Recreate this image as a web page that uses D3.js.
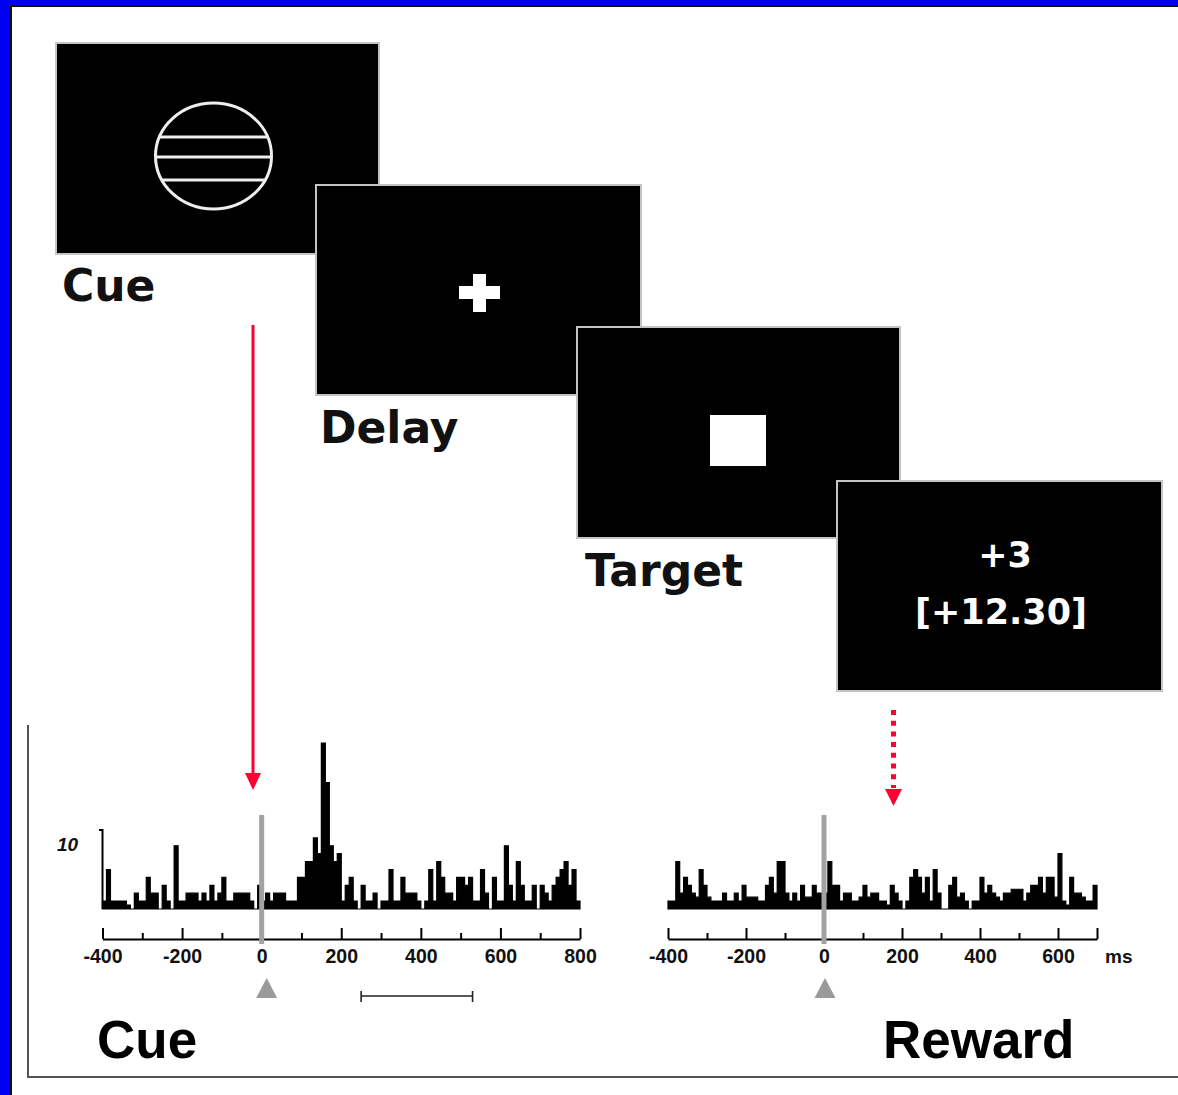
<!DOCTYPE html>
<html>
<head>
<meta charset="utf-8">
<script src="https://cdn.jsdelivr.net/npm/d3@7"></script>
<style>
  body { margin: 0; background: #fff; }
  svg { display: block; }
</style>
</head>
<body>
<script>
// ---- data -------------------------------------------------------------
const binMs = 10;

// Cue-aligned firing histogram, 10 ms bins starting at -400 ms (spikes/s)
const cueStartMs = -400;
const cueRate = [
  1, 5, 1, 1, 1, 1, 0.5, 0, 2, 1,
  1, 4, 2, 2, 0, 3, 1, 0, 8, 1,
  1, 2, 2, 2, 1, 2, 1, 3, 1, 2,
  4, 1, 1, 2, 2, 2, 2, 1, 0, 3,
  1, 2, 1, 2, 2, 2, 1, 1, 1, 4,
  4, 6, 6, 9, 7, 21, 16, 8, 6, 7,
  1, 3, 4, 1, 0, 3, 1, 1, 2, 0,
  1, 1, 5, 1, 1, 4, 2, 2, 2, 1,
  0, 1, 5, 1, 6, 4, 2, 2, 1, 4,
  4, 3, 4, 1, 1, 5, 2, 0, 4, 1,
  1, 8, 3, 1, 6, 3, 1, 1, 3, 0,
  3, 2, 1, 3, 4, 5, 6, 3, 5, 1
];

// Reward-aligned firing histogram, 10 ms bins starting at -400 ms
const rewardStartMs = -400;
const rewardRate = [
  1, 1, 6, 2, 4, 3, 2, 1.5, 5, 3,
  1.5, 1, 1, 1, 2, 1, 1, 2, 1, 3,
  1.5, 1.5, 1.5, 1, 1, 3, 4, 2, 6, 6,
  2, 1, 2, 1, 3, 1.5, 1.5, 3, 2, 2,
  2, 6, 3, 3, 1, 2, 2, 1, 1, 1.5,
  3, 1.5, 2, 2, 1, 1, 0.5, 3, 2, 1,
  0, 1, 4, 5, 4, 2, 4, 1, 5, 2,
  0, 0, 3, 4, 1.5, 2, 1, 0, 1, 1,
  4, 2, 3, 2, 1.5, 1, 2, 2, 2.5, 2.5,
  2.5, 1, 2, 3, 3, 4, 2, 4, 4, 1.5,
  7, 1, 0.5, 4, 2, 2, 1.5, 1, 1, 3
];

const cueDomain = [-400, 800];
const rewardDomain = [-400, 700];
const cueTicks = [-400, -200, 0, 200, 400, 600, 800];
const cueMinorTicks = [-300, -100, 100, 300, 500, 700];
const rewardTicks = [-400, -200, 0, 200, 400, 600];
const rewardEndTicks = [700];
const rewardMinorTicks = [-300, -100, 100, 300, 500];
const timeUnit = "ms";
const rateScaleMark = 10;
const scaleBarMs = [250, 530];

const phaseNames = ["Cue", "Delay", "Target"];
const rewardLines = ["+3", "[+12.30]"];
const panelTitles = ["Cue", "Reward"];

// ---- canvas -----------------------------------------------------------
const W = 1178, H = 1095;
const svg = d3.select("body").append("svg")
  .attr("width", W).attr("height", H);

// blue slide frame with a thin dark inner edge
svg.append("rect").attr("width", W).attr("height", H).attr("fill", "#0000f2");
svg.append("rect").attr("x", 10).attr("y", 5).attr("width", W - 10).attr("height", H - 5).attr("fill", "#111");
svg.append("rect").attr("x", 12).attr("y", 7).attr("width", W - 12).attr("height", H - 7).attr("fill", "#fff");

// ---- task screens -----------------------------------------------------
const screenFont = "'DejaVu Sans', Verdana, sans-serif";
const screens = [
  { x: 56, y: 43, w: 323, h: 211 },
  { x: 316, y: 185, w: 325, h: 210 },
  { x: 577, y: 327, w: 323, h: 211 },
  { x: 837, y: 481, w: 325, h: 210 }
];

const sg = svg.append("g");
screens.forEach((s, i) => {
  sg.append("rect")
    .attr("x", s.x).attr("y", s.y).attr("width", s.w).attr("height", s.h)
    .attr("fill", "#000").attr("stroke", "#c4c4c4").attr("stroke-width", 2);

  if (i === 0) {
    // striped circle cue
    const cx = 213.5, cy = 156, rx = 58, ry = 53;
    sg.append("ellipse").attr("cx", cx).attr("cy", cy).attr("rx", rx).attr("ry", ry)
      .attr("fill", "none").attr("stroke", "#eee").attr("stroke-width", 3);
    [137, 157, 180].forEach(yy => {
      const half = rx * Math.sqrt(Math.max(0, 1 - ((yy - cy) / ry) ** 2));
      sg.append("line").attr("x1", cx - half).attr("x2", cx + half)
        .attr("y1", yy).attr("y2", yy)
        .attr("stroke", "#eee").attr("stroke-width", 3);
    });
  } else if (i === 1) {
    // fixation cross
    sg.append("rect").attr("x", 459).attr("y", 286).attr("width", 41).attr("height", 13).attr("fill", "#fff");
    sg.append("rect").attr("x", 473).attr("y", 274).attr("width", 13).attr("height", 38).attr("fill", "#fff");
  } else if (i === 2) {
    // target square
    sg.append("rect").attr("x", 710).attr("y", 415).attr("width", 56).attr("height", 51).attr("fill", "#fff");
  } else {
    // feedback text
    sg.append("text").attr("x", 1005).attr("y", 567).text(rewardLines[0])
      .attr("text-anchor", "middle").attr("fill", "#fff")
      .attr("font-family", screenFont).attr("font-weight", "bold").attr("font-size", 35);
    sg.append("text").attr("x", 1001).attr("y", 624).text(rewardLines[1])
      .attr("text-anchor", "middle").attr("fill", "#fff")
      .attr("font-family", screenFont).attr("font-weight", "bold").attr("font-size", 35);
  }
});

// phase labels under the screens
const phaseLabelPos = [[62, 301], [320, 443], [585, 586]];
phaseNames.forEach((name, i) => {
  svg.append("text").attr("x", phaseLabelPos[i][0]).attr("y", phaseLabelPos[i][1])
    .text(name)
    .attr("font-family", screenFont).attr("font-weight", "bold")
    .attr("font-size", 44).attr("fill", "#111");
});

// ---- lower panel frame -----------------------------------------------
svg.append("path").attr("d", "M28,725V1077H1178")
  .attr("fill", "none").attr("stroke", "#555").attr("stroke-width", 2);

// ---- histograms -------------------------------------------------------
const axisY = 939;
const y = d3.scaleLinear().domain([0, rateScaleMark]).range([909, 830]);
const xCue = d3.scaleLinear().domain(cueDomain).range([102.5, 580]);
const xRew = d3.scaleLinear().domain(rewardDomain).range([668, 1097]);

function drawHistogram(x, startMs, rates) {
  const pts = rates.map((v, i) => ({ t: startMs + i * binMs, v }));
  pts.push({ t: startMs + rates.length * binMs, v: rates[rates.length - 1] });
  const area = d3.area()
    .x(d => x(d.t)).y0(y(0)).y1(d => y(d.v))
    .curve(d3.curveStepAfter);
  svg.append("path").datum(pts).attr("d", area)
    .attr("fill", "#000").attr("stroke", "#000").attr("stroke-width", 1.2)
    .attr("stroke-linejoin", "miter");
}

const tickFont = "'Liberation Sans', Arial, sans-serif";
function drawAxis(x, major, minor, labelled) {
  const g = svg.append("g").attr("transform", `translate(0,${axisY})`);
  g.call(d3.axisBottom(x).tickValues(major)
      .tickSizeInner(-11).tickSizeOuter(0).tickPadding(10)
      .tickFormat(d => labelled.includes(d) ? d : ""));
  g.attr("font-family", tickFont).attr("font-size", 19.5).attr("font-weight", "bold");
  g.select(".domain").attr("stroke", "#000").attr("stroke-width", 2);
  g.selectAll(".tick line").attr("stroke", "#000").attr("stroke-width", 2);
  g.selectAll(".tick text").attr("fill", "#111");

  const gm = svg.append("g").attr("transform", `translate(0,${axisY})`);
  gm.call(d3.axisBottom(x).tickValues(minor).tickSizeInner(-6).tickSizeOuter(0).tickFormat(""));
  gm.select(".domain").remove();
  gm.selectAll(".tick line").attr("stroke", "#000").attr("stroke-width", 2);
  return g;
}

function drawEventLine(x) {
  svg.append("rect").attr("x", x(0) - 2.5).attr("y", 815)
    .attr("width", 5).attr("height", 129).attr("fill", "#a2a2a2");
}

function drawEventMarker(cx) {
  svg.append("path")
    .attr("d", `M${cx},978L${cx + 10.5},998L${cx - 10.5},998Z`)
    .attr("fill", "#9a9a9a");
}

// cue-aligned panel
drawHistogram(xCue, cueStartMs, cueRate);
drawAxis(xCue, cueTicks, cueMinorTicks, cueTicks);
drawEventLine(xCue);
drawEventMarker(xCue(0) + 5);

// rate scale bracket and label
svg.append("path").attr("d", `M99,${y(rateScaleMark)}H${xCue(cueDomain[0])}V${y(0)}`)
  .attr("fill", "none").attr("stroke", "#000").attr("stroke-width", 2);
svg.append("text").attr("x", 57).attr("y", 851).text(rateScaleMark)
  .attr("font-family", tickFont).attr("font-style", "italic").attr("font-weight", "bold")
  .attr("font-size", 19).attr("fill", "#111");

// time scale bar
const sb = svg.append("g").attr("stroke", "#222").attr("stroke-width", 1.6);
sb.append("line").attr("x1", xCue(scaleBarMs[0])).attr("x2", xCue(scaleBarMs[1]))
  .attr("y1", 996).attr("y2", 996);
scaleBarMs.forEach(t => {
  sb.append("line").attr("x1", xCue(t)).attr("x2", xCue(t)).attr("y1", 991).attr("y2", 1002);
});

// reward-aligned panel
drawHistogram(xRew, rewardStartMs, rewardRate);
drawAxis(xRew, rewardTicks.concat(rewardEndTicks), rewardMinorTicks, rewardTicks);
drawEventLine(xRew);
drawEventMarker(xRew(0) + 1);
svg.append("text").attr("x", 1105).attr("y", 963).text(timeUnit)
  .attr("font-family", tickFont).attr("font-weight", "bold")
  .attr("font-size", 19).attr("fill", "#111");

// panel titles
const titleFont = "'Liberation Sans', Arial, sans-serif";
[[97, 1058], [883, 1058]].forEach((p, i) => {
  svg.append("text").attr("x", p[0]).attr("y", p[1]).text(panelTitles[i])
    .attr("font-family", titleFont).attr("font-weight", "bold")
    .attr("font-size", 53).attr("fill", "#000");
});

// ---- arrows linking screens to histograms -------------------------------
const red = "#ff0033";
svg.append("line").attr("x1", 253).attr("x2", 253).attr("y1", 325).attr("y2", 775)
  .attr("stroke", red).attr("stroke-width", 3);
svg.append("path").attr("d", "M245,773L261,773L253,790Z").attr("fill", red);

svg.append("line").attr("x1", 893.5).attr("x2", 893.5).attr("y1", 710).attr("y2", 788)
  .attr("stroke", red).attr("stroke-width", 5).attr("stroke-dasharray", "5,5.7");
svg.append("path").attr("d", "M885,789L902,789L893.5,806Z").attr("fill", red);
</script>
</body>
</html>
